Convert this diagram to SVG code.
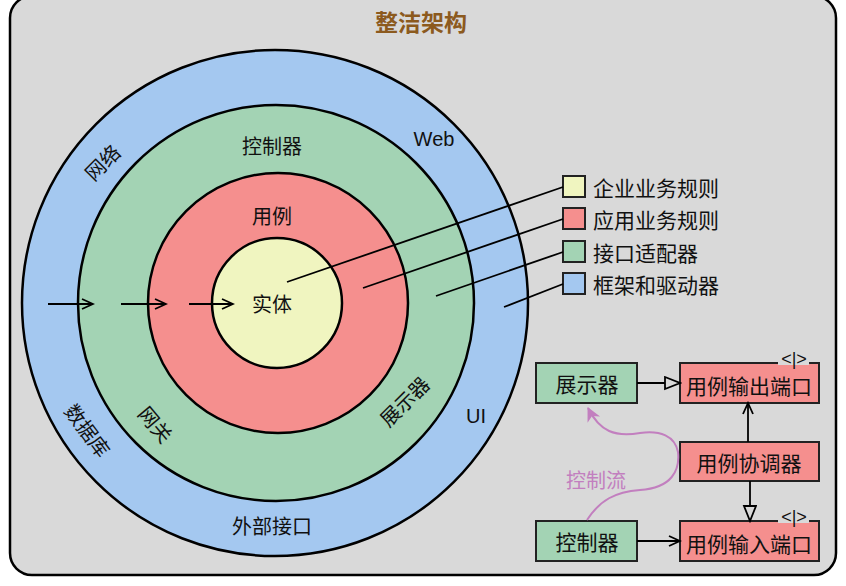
<svg xmlns="http://www.w3.org/2000/svg" width="846" height="586" viewBox="0 0 846 586">
<style>
text{font-family:"Noto Sans CJK SC","Liberation Sans",sans-serif;fill:#111;}
.c{text-anchor:middle;dominant-baseline:central;}
.lbl{font-size:20px;}
.box{stroke:#222;stroke-width:2;}
.g{fill:#a3d3b4;}
.r{fill:#f58f8e;}
.ring{stroke:#000;stroke-width:2.5;}
.ln{stroke:#000;stroke-width:1.8;fill:none;}
.port{font-size:18px;font-family:"Liberation Sans",sans-serif;text-anchor:middle;}
</style>
<defs>
<marker id="open" markerUnits="userSpaceOnUse" markerWidth="14" markerHeight="14" refX="12" refY="6" orient="auto"><path d="M1,1 L12,6 L1,11" fill="none" stroke="#000" stroke-width="1.8"/></marker>
<marker id="tri" markerUnits="userSpaceOnUse" markerWidth="18" markerHeight="16" refX="16" refY="7" orient="auto"><path d="M1,1 L16,7 L1,13 Z" fill="#d9d9d9" stroke="#000" stroke-width="1.8"/></marker>
<marker id="pur" markerUnits="userSpaceOnUse" markerWidth="16" markerHeight="16" refX="13" refY="7" orient="auto"><path d="M0,0 L14,7 L0,14 L4,7 Z" fill="#c27fbf"/></marker>
</defs>
<rect x="10" y="-4" width="826" height="579" rx="22" fill="#d9d9d9" stroke="#000" stroke-width="2.5"/>
<text class="c" x="421" y="21" style="font-size:23px;font-weight:bold;fill:#8c5a1e">整洁架构</text>
<g id="ring-frameworks"><circle class="ring" cx="275" cy="303" r="253" fill="#a4c8f0"/></g>
<g id="ring-adapters"><circle class="ring" cx="276" cy="303" r="198" fill="#a3d3b4"/></g>
<g id="ring-usecases"><circle class="ring" cx="278" cy="303" r="130" fill="#f58f8e"/></g>
<g id="ring-entities"><circle class="ring" cx="277" cy="303" r="65" fill="#f0f5c0"/></g>
<g id="circle-labels">
<text class="c lbl" x="272" y="303">实体</text>
<text class="c lbl" x="272" y="215">用例</text>
<text class="c lbl" x="272" y="145">控制器</text>
<text class="c lbl" x="434" y="139" style="font-family:'Liberation Sans',sans-serif">Web</text>
<text class="c lbl" x="476" y="416" style="font-family:'Liberation Sans',sans-serif">UI</text>
<text class="c lbl" x="272" y="525">外部接口</text>
<text class="c lbl" transform="translate(102,162) rotate(-45)">网络</text>
<text class="c lbl" transform="translate(88,430) rotate(53)">数据库</text>
<text class="c lbl" transform="translate(156,424) rotate(50)">网关</text>
<text class="c lbl" transform="translate(404,401) rotate(-45)">展示器</text>
</g>
<g id="legend">
<rect class="box" x="563" y="176" width="22" height="21" fill="#f0f5c0"/>
<rect class="box" x="563" y="208" width="22" height="21" fill="#f58f8e"/>
<rect class="box" x="563" y="241" width="22" height="21" fill="#a3d3b4"/>
<rect class="box" x="563" y="273" width="22" height="21" fill="#a4c8f0"/>
<text x="593" y="187" style="font-size:21px;dominant-baseline:central">企业业务规则</text>
<text x="593" y="219" style="font-size:21px;dominant-baseline:central">应用业务规则</text>
<text x="593" y="252" style="font-size:21px;dominant-baseline:central">接口适配器</text>
<text x="593" y="284" style="font-size:21px;dominant-baseline:central">框架和驱动器</text>
</g>
<g id="presenter"><rect class="box g" x="536" y="363" width="101" height="40"/><text class="c" x="587" y="383" style="font-size:21px">展示器</text></g>
<g id="output-port"><rect class="box r" x="680" y="363" width="139" height="40"/><rect x="778" y="356" width="31" height="9" fill="#d9d9d9"/><text class="port" x="794" y="365">&lt;|&gt;</text><text class="c" x="749" y="385" style="font-size:21px">用例输出端口</text></g>
<g id="interactor"><rect class="box r" x="680" y="442" width="139" height="39"/><text class="c" x="749" y="462" style="font-size:21px">用例协调器</text></g>
<g id="controller"><rect class="box g" x="536" y="521" width="101" height="40"/><text class="c" x="587" y="541" style="font-size:21px">控制器</text></g>
<g id="input-port"><rect class="box r" x="680" y="521" width="139" height="40"/><rect x="778" y="514" width="31" height="9" fill="#d9d9d9"/><text class="port" x="794" y="523">&lt;|&gt;</text><text class="c" x="749" y="543" style="font-size:21px">用例输入端口</text></g>
<g id="connectors">
<line class="ln" x1="48" y1="304" x2="93" y2="304" marker-end="url(#open)"/>
<line class="ln" x1="121" y1="304" x2="166" y2="304" marker-end="url(#open)"/>
<line class="ln" x1="189" y1="304" x2="233" y2="304" marker-end="url(#open)"/>
<line class="ln" x1="563" y1="187" x2="287" y2="282"/>
<line class="ln" x1="563" y1="219" x2="363" y2="288"/>
<line class="ln" x1="563" y1="252" x2="436" y2="296"/>
<line class="ln" x1="563" y1="284" x2="504" y2="307"/>
<line class="ln" x1="637" y1="383" x2="680" y2="383" marker-end="url(#tri)"/>
<line class="ln" x1="748" y1="442" x2="748" y2="403" marker-end="url(#open)"/>
<line class="ln" x1="750" y1="481" x2="750" y2="521" marker-end="url(#tri)"/>
<line class="ln" x1="637" y1="541" x2="680" y2="541" marker-end="url(#open)"/>
<path d="M587,520 C600,500 615,492 640,490 C672,488 680,470 678,452 C675,436 660,430 640,433 C615,437 600,432 588,408" fill="none" stroke="#c27fbf" stroke-width="2" marker-end="url(#pur)"/>
<text class="c" x="596" y="479" style="font-size:20px;fill:#c27fbf">控制流</text>
</g>
</svg>
